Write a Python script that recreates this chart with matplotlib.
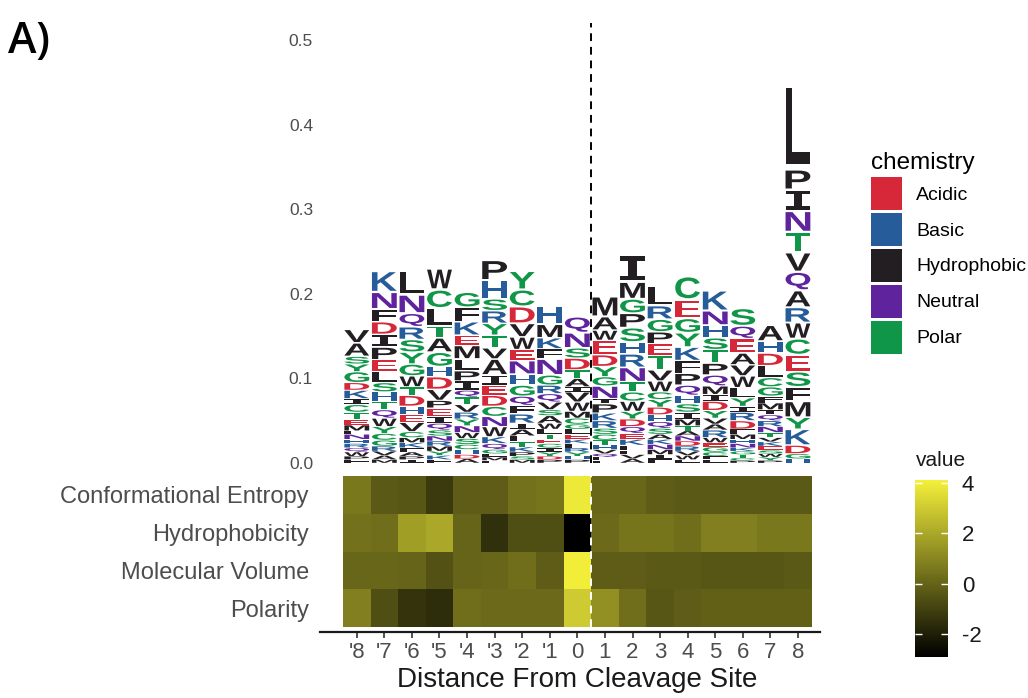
import numpy as np
import matplotlib
matplotlib.use('Agg')
import matplotlib.pyplot as plt
from matplotlib.textpath import TextPath
from matplotlib.patches import PathPatch, Patch
from matplotlib.transforms import Affine2D
from matplotlib.font_manager import FontProperties
from matplotlib.colors import LinearSegmentedColormap, Normalize

# positions along the sequence
positions = ["'8", "'7", "'6", "'5", "'4", "'3", "'2", "'1", "0",
             "1", "2", "3", "4", "5", "6", "7", "8"]

# letters of each stack, top to bottom, and their heights (x 0.001)
logo_letters = [
    "VASYGDKICTEMLNHRQWPF",
    "KNFDIPELSHTQWYCGRVAM",
    "LNQRSYGWTDHEVCMKFAPI",
    "WCLTAGHDVPEIQSNRMYKF",
    "GFKEMLPIQTVRYNWSCHDA",
    "PHSRYTVAIEDCNWKQGLMF",
    "YCDVWENHGQFRIALTKPSM",
    "HMKFNGRQVSAWLTECIYDP",
    "QNSDTAIVWMCGLEKFRYHP",
    "MAWEDYGNIPKRSCTHVQLF",
    "IMGPSHRNTCWYDQEKFLVA",
    "LRGPETVWCYDHQSAKNMIF",
    "CEGYKFPQHSIMTANDRVWL",
    "KNHSTPQMIDYVARWEGCFL",
    "SQEAVWLYIRDFMHNKGTCP",
    "AHDLCGFMIQRNTVKESWYP",
    "LPINTVQARWCESFMYKDGH",
]
logo_heights = [
    [16, 16, 9, 9, 13, 9, 10, 7, 9, 9, 6, 7, 4, 6, 5, 5, 5, 5, 4, 4],
    [25, 20, 15, 15, 15, 15, 14, 13, 11, 11, 10, 10, 10, 8, 8, 7, 6, 5, 5, 4],
    [28, 22, 16, 15, 15, 14, 14, 13, 10, 13, 10, 9, 11, 7, 6, 6, 5, 5, 4, 4],
    [25, 22, 21, 14, 17, 17, 12, 15, 13, 9, 10, 8, 8, 7, 6, 6, 6, 5, 5, 4],
    [18, 17, 16, 12, 16, 14, 12, 11, 8, 9, 9, 8, 8, 8, 7, 7, 6, 6, 5, 5],
    [24, 22, 14, 15, 14, 15, 13, 19, 12, 12, 13, 12, 12, 12, 8, 7, 5, 4, 4, 3],
    [22, 20, 20, 16, 15, 13, 16, 13, 13, 11, 10, 11, 7, 8, 7, 6, 6, 5, 4, 4],
    [22, 16, 13, 12, 19, 12, 10, 10, 9, 7, 9, 7, 6, 6, 5, 5, 5, 5, 4, 4],
    [19, 18, 12, 14, 10, 10, 6, 12, 11, 8, 7, 6, 6, 6, 5, 5, 5, 5, 4, 4],
    [24, 16, 12, 17, 14, 12, 11, 15, 6, 11, 9, 9, 7, 7, 6, 5, 5, 4, 4, 3],
    [32, 20, 17, 17, 17, 14, 16, 17, 12, 11, 12, 9, 9, 8, 7, 7, 6, 5, 5, 5],
    [24, 16, 15, 14, 14, 17, 13, 13, 9, 9, 9, 8, 8, 7, 6, 6, 6, 6, 5, 5],
    [28, 22, 17, 17, 16, 15, 14, 12, 10, 10, 8, 8, 6, 6, 6, 6, 6, 5, 5, 4],
    [24, 17, 15, 14, 16, 14, 13, 10, 8, 11, 9, 7, 7, 9, 6, 5, 6, 5, 4, 4],
    [21, 15, 17, 14, 13, 14, 12, 10, 7, 10, 10, 6, 6, 5, 5, 4, 4, 4, 3, 3],
    [19, 14, 15, 14, 11, 11, 8, 8, 6, 7, 7, 7, 6, 5, 5, 5, 4, 4, 4, 3],
    [102, 24, 25, 25, 24, 23, 22, 20, 18, 19, 19, 20, 18, 17, 19, 14, 19, 10, 6, 5],
]

chem_groups = ['Acidic', 'Basic', 'Hydrophobic', 'Neutral', 'Polar']
chem_members = ['DE', 'KRH', 'AVLIPWFM', 'QN', 'GSTYC']
chem_colors = ['#D62839', '#255C99', '#221E22', '#5E239D', '#109648']

# heatmap below the logo
properties = ['Conformational Entropy', 'Hydrophobicity', 'Molecular Volume', 'Polarity']
entropy_vals = [0.6, -0.3, -0.4, -1.2, -0.2, -0.2, 0.4, 0.5, 3.9,
                0.1, 0.1, -0.2, -0.3, -0.3, -0.3, -0.3, -0.3]
hydro_vals = [0.4, 0.3, 1.7, 2.0, 0.0, -1.5, -0.6, -0.6, -2.9,
              0.2, 0.5, 0.5, 0.3, 0.8, 0.8, 0.6, 0.6]
volume_vals = [0.1, 0.1, 0.0, -0.5, 0.0, 0.1, 0.3, -0.2, 4.0,
               -0.2, -0.2, -0.3, -0.3, -0.4, -0.4, -0.4, -0.3]
polarity_vals = [0.8, -0.6, -1.4, -1.6, 0.3, 0.2, 0.2, 0.2, 3.0,
                 1.3, 0.3, -0.4, -0.2, -0.1, -0.1, -0.1, -0.1]

plt.rcParams['font.family'] = ['Liberation Sans', 'DejaVu Sans']
plt.rcParams['axes.unicode_minus'] = False

W, H = 1028, 698
fig = plt.figure(figsize=(W / 100, H / 100), dpi=100)


def px_axes(x0, y0, x1, y1):
    # box given in pixels, measured from the top left corner
    return fig.add_axes([x0 / W, 1 - y1 / H, (x1 - x0) / W, (y1 - y0) / H])


letter_color = {}
for members, col in zip(chem_members, chem_colors):
    for ch in members:
        letter_color[ch] = col

font_main = FontProperties(family='Liberation Sans', weight='bold')
font_i = FontProperties(family='DejaVu Sans Mono', weight='bold')
glyphs = {}


def draw_letter(ax, ch, xc, y, w, h, color):
    if ch not in glyphs:
        glyphs[ch] = TextPath((0, 0), ch, size=1, prop=font_i if ch == 'I' else font_main)
    tp = glyphs[ch]
    bb = tp.get_extents()
    gh = h * 0.88
    t = (Affine2D().translate(-bb.x0, -bb.y0)
         .scale(w / bb.width, gh / bb.height)
         .translate(xc - w / 2, y + h * 0.06))
    ax.add_patch(PathPatch(t.transform_path(tp), facecolor=color, edgecolor='none'))


xlim = (-1.334, 16.8)

# sequence logo
ax_logo = px_axes(320, 23, 820, 463)
for i, (letters, hts) in enumerate(zip(logo_letters, logo_heights)):
    y = 0.0
    for ch, hv in zip(letters[::-1], hts[::-1]):
        draw_letter(ax_logo, ch, i, y, 0.9, hv / 1000, letter_color[ch])
        y += hv / 1000
ax_logo.set_xlim(xlim)
ax_logo.set_ylim(0, 0.52)
ax_logo.axvline(8.5, color='black', ls=(0, (4, 3)), lw=1.4)
for s in ax_logo.spines.values():
    s.set_visible(False)
ax_logo.set_xticks([])
ax_logo.set_yticks([0, 0.1, 0.2, 0.3, 0.4, 0.5])
ax_logo.set_yticklabels(['0.0', '0.1', '0.2', '0.3', '0.4', '0.5'])
ax_logo.tick_params(axis='y', length=0, pad=5, labelsize=12.5, labelcolor='#4D4D4D')

# heatmap
ax_heat = px_axes(320, 476, 820, 632)
heat = np.array([polarity_vals, volume_vals, hydro_vals, entropy_vals])
cmap = LinearSegmentedColormap.from_list('blackyellow', ['#000000', '#F4F03A'])
norm = Normalize(vmin=-2.9, vmax=4.1)
mesh = ax_heat.pcolormesh(np.arange(len(positions) + 1) - 0.5, np.arange(5), heat,
                          cmap=cmap, norm=norm)
ax_heat.axvline(8.5, ymin=0.13 / 4.13, ymax=1, color='white', ls=(0, (4, 3)), lw=1.4)
ax_heat.set_xlim(xlim)
ax_heat.set_ylim(-0.13, 4)
for side in ['top', 'left', 'right']:
    ax_heat.spines[side].set_visible(False)
ax_heat.spines['bottom'].set_linewidth(1.6)
ax_heat.spines['bottom'].set_color('#1A1A1A')
ax_heat.set_xticks(range(len(positions)))
ax_heat.set_xticklabels(positions)
ax_heat.set_yticks([3.5, 2.5, 1.5, 0.5])
ax_heat.set_yticklabels(properties)
ax_heat.tick_params(axis='x', length=4, width=1.2, color='#333333', labelsize=16,
                    labelcolor='#4D4D4D', pad=3)
ax_heat.tick_params(axis='y', length=0, pad=8, labelsize=17, labelcolor='#4D4D4D')
ax_heat.set_xlabel('Distance From Cleavage Site', fontsize=20, color='#1A1A1A', labelpad=3)
ax_heat.xaxis.label.set_x((577 - 320) / 500)

# colorbar
cax = px_axes(915, 480, 948, 657)
cb = fig.colorbar(mesh, cax=cax)
cb.set_ticks([-2, 0, 2, 4])
cb.outline.set_visible(False)
cax.tick_params(which='both', direction='in', length=5, width=1, color='white',
                left=True, right=True, labelsize=16, labelcolor='#1A1A1A', pad=10)
cax.minorticks_off()
fig.text(916 / W, 1 - 460 / H, 'value', fontsize=15, va='center', ha='left', color='#1A1A1A')

# chemistry legend
handles = [Patch(facecolor=c, edgecolor='none', label=g) for g, c in zip(chem_groups, chem_colors)]
fig.legend(handles=handles, title='chemistry', loc='upper left',
           bbox_to_anchor=(871 / W, 1 - 152 / H), frameon=False, fontsize=14,
           title_fontsize=17.5, handlelength=1.6, handleheight=2.24, labelspacing=0.15,
           handletextpad=0.72, alignment='left', borderaxespad=0, borderpad=0)

fig.text(8 / W, 1 - 42 / H, 'A)', fontsize=31, family='Open Sans', weight='semibold',
         va='center', ha='left')

fig.savefig('out.png', dpi=100)
